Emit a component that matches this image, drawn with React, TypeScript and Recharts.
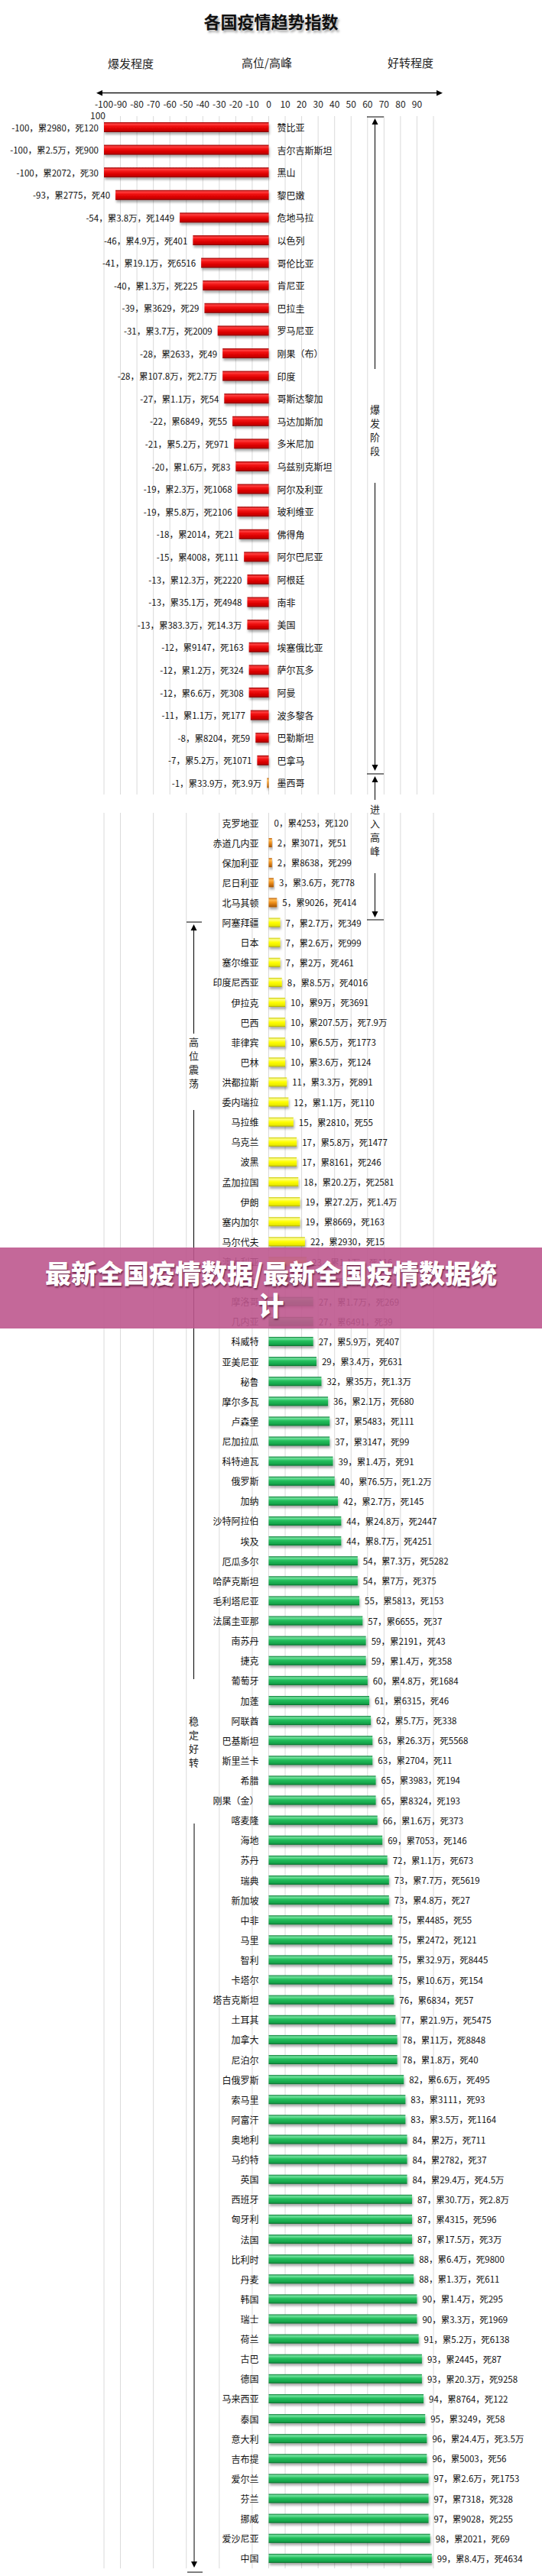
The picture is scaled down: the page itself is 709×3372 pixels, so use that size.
import React from 'react';
import { BarChart, Bar, XAxis, YAxis, CartesianGrid, LabelList, Cell } from 'recharts';

// ---------- data ----------
const gridTicks = [-100, -90, -80, -70, -60, -50, -40, -30, -20, -10, 0, 10, 20, 30, 40, 50, 60, 70, 80, 90, 100];

const outbreakNames = ['赞比亚', '吉尔吉斯斯坦', '黑山', '黎巴嫩', '危地马拉', '以色列', '哥伦比亚', '肯尼亚', '巴拉圭', '罗马尼亚', '刚果（布）', '印度', '哥斯达黎加', '马达加斯加', '多米尼加', '乌兹别克斯坦', '阿尔及利亚', '玻利维亚', '佛得角', '阿尔巴尼亚', '阿根廷', '南非', '美国', '埃塞俄比亚', '萨尔瓦多', '阿曼', '波多黎各', '巴勒斯坦', '巴拿马', '墨西哥'];
const outbreakIndex = [-100, -100, -100, -93, -54, -46, -41, -40, -39, -31, -28, -28, -27, -22, -21, -20, -19, -19, -18, -15, -13, -13, -13, -12, -12, -12, -11, -8, -7, -1];
const outbreakCases = ['2980', '2.5万', '2072', '2775', '3.8万', '4.9万', '19.1万', '1.3万', '3629', '3.7万', '2633', '107.8万', '1.1万', '6849', '5.2万', '1.6万', '2.3万', '5.8万', '2014', '4008', '12.3万', '35.1万', '383.3万', '9147', '1.2万', '6.6万', '1.1万', '8204', '5.2万', '33.9万'];
const outbreakDeaths = ['120', '900', '30', '40', '1449', '401', '6516', '225', '29', '2009', '49', '2.7万', '54', '55', '971', '83', '1068', '2106', '21', '111', '2220', '4948', '14.3万', '163', '324', '308', '177', '59', '1071', '3.9万'];

const laterNames = ['克罗地亚', '赤道几内亚', '保加利亚', '尼日利亚', '北马其顿', '阿塞拜疆', '日本', '塞尔维亚', '印度尼西亚', '伊拉克', '巴西', '菲律宾', '巴林', '洪都拉斯', '委内瑞拉', '马拉维', '乌克兰', '波黑', '孟加拉国', '伊朗', '塞内加尔', '马尔代夫', '澳大利亚', '波兰', '摩洛哥', '几内亚', '科威特', '亚美尼亚', '秘鲁', '摩尔多瓦', '卢森堡', '尼加拉瓜', '科特迪瓦', '俄罗斯', '加纳', '沙特阿拉伯', '埃及', '厄瓜多尔', '哈萨克斯坦', '毛利塔尼亚', '法属圭亚那', '南苏丹', '捷克', '葡萄牙', '加蓬', '阿联酋', '巴基斯坦', '斯里兰卡', '希腊', '刚果（金）', '喀麦隆', '海地', '苏丹', '瑞典', '新加坡', '中非', '马里', '智利', '卡塔尔', '塔吉克斯坦', '土耳其', '加拿大', '尼泊尔', '白俄罗斯', '索马里', '阿富汗', '奥地利', '马约特', '英国', '西班牙', '匈牙利', '法国', '比利时', '丹麦', '韩国', '瑞士', '荷兰', '古巴', '德国', '马来西亚', '泰国', '意大利', '吉布提', '爱尔兰', '芬兰', '挪威', '爱沙尼亚', '中国'];
const laterIndex = [0, 2, 2, 3, 5, 7, 7, 7, 8, 10, 10, 10, 10, 11, 12, 15, 17, 17, 18, 19, 19, 22, 23, 26, 27, 27, 27, 29, 32, 36, 37, 37, 39, 40, 42, 44, 44, 54, 54, 55, 57, 59, 59, 60, 61, 62, 63, 63, 65, 65, 66, 69, 72, 73, 73, 75, 75, 75, 75, 76, 77, 78, 78, 82, 83, 83, 84, 84, 84, 87, 87, 87, 88, 88, 90, 90, 91, 93, 93, 94, 95, 96, 96, 97, 97, 97, 98, 99];
const laterCases = ['4253', '3071', '8638', '3.6万', '9026', '2.7万', '2.6万', '2万', '8.5万', '9万', '207.5万', '6.5万', '3.6万', '3.3万', '1.1万', '2810', '5.8万', '8161', '20.2万', '27.2万', '8669', '2930', '1.1万', '3.9万', '1.7万', '6491', '5.9万', '3.4万', '35万', '2.1万', '5483', '3147', '1.4万', '76.5万', '2.7万', '24.8万', '8.7万', '7.3万', '7万', '5813', '6655', '2191', '1.4万', '4.8万', '6315', '5.7万', '26.3万', '2704', '3983', '8324', '1.6万', '7053', '1.1万', '7.7万', '4.8万', '4485', '2472', '32.9万', '10.6万', '6834', '21.9万', '11万', '1.8万', '6.6万', '3111', '3.5万', '2万', '2782', '29.4万', '30.7万', '4315', '17.5万', '6.4万', '1.3万', '1.4万', '3.3万', '5.2万', '2445', '20.3万', '8764', '3249', '24.4万', '5003', '2.6万', '7318', '9028', '2021', '8.4万'];
const laterDeaths = ['120', '51', '299', '778', '414', '349', '999', '461', '4016', '3691', '7.9万', '1773', '124', '891', '110', '55', '1477', '246', '2581', '1.4万', '163', '15', '116', '1615', '269', '39', '407', '631', '1.3万', '680', '111', '99', '91', '1.2万', '145', '2447', '4251', '5282', '375', '153', '37', '43', '358', '1684', '46', '338', '5568', '11', '194', '193', '373', '146', '673', '5619', '27', '55', '121', '8445', '154', '57', '5475', '8848', '40', '495', '93', '1164', '711', '37', '4.5万', '2.8万', '596', '3万', '9800', '611', '295', '1969', '6138', '87', '9258', '122', '58', '3.5万', '56', '1753', '328', '255', '69', '4634'];

const outbreakData = outbreakNames.map((name, i) => ({ name, value: outbreakIndex[i], cases: outbreakCases[i], deaths: outbreakDeaths[i] }));
const laterData = laterNames.map((name, i) => ({ name, value: laterIndex[i], cases: laterCases[i], deaths: laterDeaths[i] }));

// ---------- styles ----------
const FONT = "'Noto Sans CJK SC', 'Noto Sans', sans-serif";

const colorOutbreak = (v: number) => (v <= -5 ? 'url(#gRed)' : 'url(#gOrange)');
const colorLater = (v: number) => (v <= 5 ? 'url(#gOrange)' : v <= 23 ? 'url(#gYellow)' : 'url(#gGreen)');

const Defs = () => (
  <defs>
    <linearGradient id="gRed" x1="0" y1="0" x2="0" y2="1">
      <stop offset="0" stopColor="#9a0000" />
      <stop offset="0.18" stopColor="#ff4040" />
      <stop offset="0.45" stopColor="#ee0a0a" />
      <stop offset="0.85" stopColor="#c80000" />
      <stop offset="1" stopColor="#7a0000" />
    </linearGradient>
    <linearGradient id="gOrange" x1="0" y1="0" x2="0" y2="1">
      <stop offset="0" stopColor="#b85a00" />
      <stop offset="0.2" stopColor="#ffbb55" />
      <stop offset="0.5" stopColor="#f0921e" />
      <stop offset="1" stopColor="#a45200" />
    </linearGradient>
    <linearGradient id="gYellow" x1="0" y1="0" x2="0" y2="1">
      <stop offset="0" stopColor="#c9c900" />
      <stop offset="0.18" stopColor="#ffff8a" />
      <stop offset="0.5" stopColor="#ffff00" />
      <stop offset="0.85" stopColor="#e8e800" />
      <stop offset="1" stopColor="#a3a300" />
    </linearGradient>
    <linearGradient id="gGreen" x1="0" y1="0" x2="0" y2="1">
      <stop offset="0" stopColor="#0b7d35" />
      <stop offset="0.18" stopColor="#74e3a0" />
      <stop offset="0.45" stopColor="#23bf5c" />
      <stop offset="0.85" stopColor="#13a249" />
      <stop offset="1" stopColor="#066528" />
    </linearGradient>
    <filter id="bshadow" x="-20%" y="-40%" width="140%" height="220%">
      <feDropShadow dx="1" dy="3" stdDeviation="1.6" floodColor="#000" floodOpacity="0.33" />
    </filter>
  </defs>
);

const BarShape = (props: any) => {
  const { x, y, width, height, fill } = props;
  const left = Math.min(x, x + width);
  const w = Math.abs(width);
  if (w < 0.5) return <g />;
  return <rect x={left} y={y} width={w} height={height} fill={fill} filter="url(#bshadow)" />;
};

const nameProps = { fontSize: 12, fontFamily: FONT, fill: '#111', dominantBaseline: 'central' as const };
const valueProps = { fontSize: 11.5, fontFamily: FONT, fill: '#111', dominantBaseline: 'central' as const };

const OutbreakLabel = (props: any) => {
  const { x, y, width, height, index } = props;
  const d = outbreakData[index];
  if (!d) return null;
  const left = Math.min(x, x + width);
  const right = Math.max(x, x + width);
  const cy = y + height / 2;
  return (
    <g>
      <text x={left - 7} y={cy} textAnchor="end" {...valueProps}>{`${d.value}，累${d.cases}，死${d.deaths}`}</text>
      <text x={right + 11} y={cy} textAnchor="start" {...nameProps}>{d.name}</text>
    </g>
  );
};

const LaterLabel = (props: any) => {
  const { x, y, width, height, index } = props;
  const d = laterData[index];
  if (!d) return null;
  const left = Math.min(x, x + width);
  const right = Math.max(x, x + width);
  const cy = y + height / 2;
  return (
    <g>
      <text x={left - 13} y={cy} textAnchor="end" {...nameProps}>{d.name}</text>
      <text x={right + 7} y={cy} textAnchor="start" {...valueProps}>{`${d.value}，累${d.cases}，死${d.deaths}`}</text>
    </g>
  );
};

const TopTick = (props: any) => {
  const { x, y, payload } = props;
  if (payload.value === 100) return <g />;
  return (
    <text x={x} y={y} textAnchor="middle" fontSize={12} fontFamily={FONT} fill="#222">{payload.value}</text>
  );
};

// ---------- annotation helpers ----------
const ArrowUp = ({ x, tip }: { x: number; tip: number }) => (
  <polygon points={`${x},${tip} ${x - 4},${tip + 8} ${x + 4},${tip + 8}`} fill="#000" />
);
const ArrowDown = ({ x, tip }: { x: number; tip: number }) => (
  <polygon points={`${x},${tip} ${x - 4},${tip - 8} ${x + 4},${tip - 8}`} fill="#000" />
);
const VText = ({ x, ys, chars }: { x: number; ys: number[]; chars: string }) => (
  <g>
    {chars.split('').map((c, i) => (
      <text key={i} x={x} y={ys[i]} textAnchor="middle" dominantBaseline="central" fontSize={13} fontFamily={FONT} fill="#222">{c}</text>
    ))}
  </g>
);

const Annotations = () => {
  const rx = 490.5;
  const lx = 253.5;
  return (
    <svg width={709} height={3372} style={{ position: 'absolute', left: 0, top: 0, pointerEvents: 'none' }}>
      {/* top double arrow */}
      <line x1={131} y1={121.7} x2={574} y2={121.7} stroke="#000" strokeWidth={1.3} />
      <polygon points="126,121.7 134,118 134,125.4" fill="#000" />
      <polygon points="579,121.7 571,118 571,125.4" fill="#000" />

      {/* right: 爆发阶段 */}
      <line x1={480} y1={153} x2={502} y2={153} stroke="#000" strokeWidth={1} />
      <ArrowUp x={rx} tip={155} />
      <line x1={rx} y1={160} x2={rx} y2={483} stroke="#000" strokeWidth={1} />
      <VText x={rx} ys={[535, 553, 571, 589]} chars="爆发阶段" />
      <line x1={rx} y1={632} x2={rx} y2={1003} stroke="#000" strokeWidth={1} />
      <ArrowDown x={rx} tip={1009} />
      <line x1={480} y1={1013} x2={502} y2={1013} stroke="#000" strokeWidth={1} />

      {/* right: 进入高峰 */}
      <ArrowUp x={rx} tip={1016} />
      <line x1={rx} y1={1021} x2={rx} y2={1047} stroke="#000" strokeWidth={1} />
      <VText x={rx} ys={[1058, 1077, 1095, 1113]} chars="进入高峰" />
      <line x1={rx} y1={1143} x2={rx} y2={1196} stroke="#000" strokeWidth={1} />
      <ArrowDown x={rx} tip={1201} />
      <line x1={480} y1={1204} x2={502} y2={1204} stroke="#000" strokeWidth={1} />

      {/* left: 高位震荡 / 稳定好转 */}
      <line x1={244} y1={1207} x2={264} y2={1207} stroke="#000" strokeWidth={1} />
      <ArrowUp x={lx} tip={1210} />
      <line x1={lx} y1={1215} x2={lx} y2={1353} stroke="#000" strokeWidth={1} />
      <VText x={lx} ys={[1363, 1381, 1399, 1417]} chars="高位震荡" />
      <line x1={lx} y1={1453} x2={lx} y2={2198} stroke="#000" strokeWidth={1} />
      <VText x={lx} ys={[2252, 2270, 2288, 2306]} chars="稳定好转" />
      <line x1={lx + 0.5} y1={2387} x2={lx + 0.5} y2={3354} stroke="#000" strokeWidth={1} />
      <ArrowDown x={lx + 0.5} tip={3361} />
      <line x1={245} y1={3367} x2={265} y2={3367} stroke="#000" strokeWidth={1} />

      {/* stray 100 label */}
      <text x={128} y={150} textAnchor="middle" dominantBaseline="central" fontSize={12} fontFamily={FONT} fill="#222">100</text>
    </svg>
  );
};

export default function App() {
  return (
    <div style={{ position: 'relative', width: 709, height: 3372, background: '#fff', fontFamily: FONT, overflow: 'hidden' }}>
      <style>{'body{margin:0}'}</style>

      {/* title & headers */}
      <div style={{ position: 'absolute', left: 0, top: 13, width: 709, textAlign: 'center', fontSize: 22, fontWeight: 700, lineHeight: '28px', color: '#111', textShadow: '2px 3px 3px rgba(0,0,0,0.35)' }}>各国疫情趋势指数</div>
      <div style={{ position: 'absolute', left: 171, top: 74, transform: 'translateX(-50%)', fontSize: 15, lineHeight: '18px', color: '#222', whiteSpace: 'nowrap' }}>爆发程度</div>
      <div style={{ position: 'absolute', left: 349, top: 73, transform: 'translateX(-50%)', fontSize: 15, lineHeight: '18px', color: '#222', whiteSpace: 'nowrap' }}>高位/高峰</div>
      <div style={{ position: 'absolute', left: 537, top: 73, transform: 'translateX(-50%)', fontSize: 15, lineHeight: '18px', color: '#222', whiteSpace: 'nowrap' }}>好转程度</div>

      {/* section 1: outbreak */}
      <div style={{ position: 'absolute', left: 0, top: 0 }}>
        <BarChart width={709} height={1040} data={outbreakData} layout="vertical" margin={{ top: 132, right: 142, bottom: 0, left: 136 }}>
          <Defs />
          <CartesianGrid horizontal={false} stroke="#dadada" />
          <XAxis type="number" domain={[-100, 100]} ticks={gridTicks} orientation="top" height={20} axisLine={false} tickLine={false} tickSize={0} tickMargin={11} interval={0} tick={<TopTick />} allowDataOverflow />
          <YAxis type="category" dataKey="name" hide />
          <Bar dataKey="value" barSize={13} shape={<BarShape />} isAnimationActive={false}>
            {outbreakData.map((d, i) => (
              <Cell key={i} fill={colorOutbreak(d.value)} />
            ))}
            <LabelList dataKey="value" content={<OutbreakLabel />} />
          </Bar>
        </BarChart>
      </div>

      {/* section 2: peak & recovery */}
      <div style={{ position: 'absolute', left: 0, top: 1064 }}>
        <BarChart width={709} height={2298} data={laterData} layout="vertical" margin={{ top: 0, right: 142, bottom: 0, left: 136 }}>
          <Defs />
          <CartesianGrid horizontal={false} stroke="#dadada" />
          <XAxis type="number" domain={[-100, 100]} ticks={gridTicks} hide allowDataOverflow />
          <YAxis type="category" dataKey="name" hide />
          <Bar dataKey="value" barSize={12} shape={<BarShape />} isAnimationActive={false}>
            {laterData.map((d, i) => (
              <Cell key={i} fill={colorLater(d.value)} />
            ))}
            <LabelList dataKey="value" content={<LaterLabel />} />
          </Bar>
        </BarChart>
      </div>

      <Annotations />

      {/* overlay banner */}
      <div style={{ position: 'absolute', left: 0, top: 1633, width: 709, height: 106, background: 'rgba(190, 88, 142, 0.9)', color: '#fff', textAlign: 'center', fontWeight: 900, fontSize: 34, lineHeight: '42px', textShadow: '1px 2px 2px rgba(60,0,30,0.6)' }}>
        <div style={{ paddingTop: 12, whiteSpace: 'nowrap' }}>最新全国疫情数据/最新全国疫情数据统</div>
        <div style={{ whiteSpace: 'nowrap' }}>计</div>
      </div>
    </div>
  );
}
